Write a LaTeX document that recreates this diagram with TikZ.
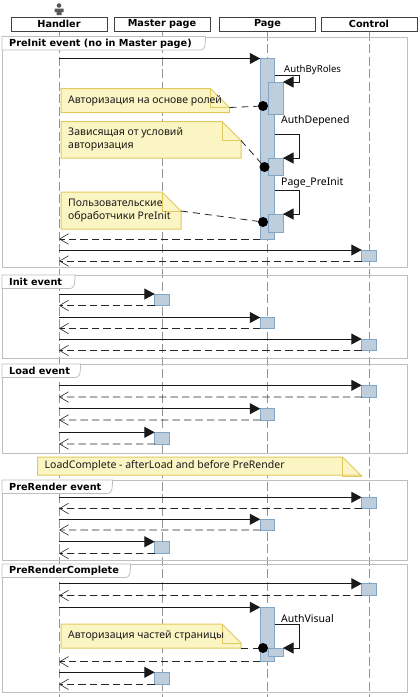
\documentclass[tikz,border=0pt]{standalone}
\usepackage{fontspec}
\setmainfont{Noto Sans}
\newfontfamily\headfont{DejaVu Sans}
\usepackage{tikz}
\usetikzlibrary{arrows.meta,calc}
\definecolor{noteback}{RGB}{251,245,195}
\definecolor{noteline}{RGB}{224,202,95}
\definecolor{actback}{RGB}{190,206,220}
\definecolor{actline}{RGB}{130,165,195}
\definecolor{frameline}{RGB}{190,190,190}

% name, x, y, width, height, text
\newcommand{\notebox}[6]{
    \draw[notebody] (#2,#3) -- ++(#4-19,0) -- ++(19,19) -- ++(0,#5-19) -- ++(-#4,0) -- cycle;
    \draw[notefold] (#2+#4-19,#3) -- ++(0,19) -- ++(19,0);
    \coordinate (#1c) at (#2+#4,#3+19);
    \node[notetext] (#1) at (#2,#3+#5/2) {#6};
}

\begin{document}
\begin{tikzpicture}[
    x=1pt, y=-1pt,
    font=\fontsize{10.5}{13}\selectfont,
    head/.style={draw=black!75, line width=1pt, fill=white, minimum width=96pt, minimum height=14pt, inner sep=0pt, font=\headfont\fontsize{9.7}{12}\selectfont\bfseries},
    lifeline/.style={gray!85, line width=0.8pt, dash pattern=on 9pt off 3.5pt},
    frame/.style={draw=frameline, line width=1pt, minimum width=405pt, inner sep=0pt, anchor=north west},
    tabline/.style={draw=frameline, line width=0.8pt, fill=white},
    tabtext/.style={font=\headfont\fontsize{9.7}{12}\selectfont\bfseries, anchor=west, inner sep=0pt},
    act/.style={draw=actline, fill=actback, line width=0.8pt, inner sep=0pt, outer sep=0pt, minimum width=14.5pt, anchor=north},
    subact/.style={act, minimum width=15pt},
    call/.style={-{Triangle[length=10.5pt,width=11pt]}, line width=1pt, black!90},
    back/.style={-{Straight Barb[length=9pt,width=10.5pt,line width=0.6pt]}, line width=0.9pt, black!85, dash pattern=on 7.5pt off 4pt},
    selfcall/.style={call},
    dot/.style={circle, fill=black, inner sep=0pt, minimum size=10pt},
    notebody/.style={draw=noteline, fill=noteback, line width=1pt},
    notefold/.style={noteline, line width=1pt},
    notetext/.style={anchor=west, align=left, inner sep=0pt, xshift=7pt, text=black!90},
    notelink/.style={black!85, line width=0.8pt, dash pattern=on 7pt off 5pt},
    steplabel/.style={anchor=south west, inner sep=0pt}
]
    \useasboundingbox (0,0) rectangle (420,697);

    % actor
    \fill[black!65] (59,5.5) circle (2.3pt);
    \fill[black!65] (54.5,8.5) -- (63.5,8.5) -- (63.5,12) -- (61.5,12) -- (61.5,15) -- (56.5,15) -- (56.5,12) -- (54.5,12) -- cycle;

    % lifelines
    \foreach \nm/\xx/\lab in {handler/59/Handler, master/162/Master page, page/267.5/Page, control/369/Control} {
        \node[head] (\nm) at (\xx,24) {\lab};
        \coordinate (\nm end) at (\xx,697);
        \draw[lifeline] (\nm.south) -- (\nm end);
    }

    % event frames
    \foreach \nm/\top/\bot/\tabx/\lab in {
        preinit/36.5/267/205.5/{PreInit event (no in Master page)},
        init/275/358/75/{Init event},
        load/364/453/80.5/{Load event},
        prerender/480/560/112.5/{PreRender event},
        prcomplete/564/692/130.5/{PreRenderComplete}} {
        \node[frame, minimum height=\bot pt-\top pt] (\nm) at (2,\top) {};
        \draw[tabline] (2,\top) -- (\tabx,\top) .. controls (\tabx,\top+10) and (\tabx-1,\top+13.5) .. (\tabx-5,\top+13.5) -- (2,\top+13.5) -- cycle;
        \node[tabtext] (\nm tab) at (9,\top+7) {\lab};
    }

    % simple call and return pairs
    \foreach \nm/\xx/\yy/\rr in {
        c1/369/250/261, i1/162/294/305.5, i2/267.5/317.5/328.5, i3/369/339/350.5,
        l1/369/385.3/397, l2/267.5/408.7/420, l3/162/432.3/444,
        r1/369/497.3/508.5, r2/267.5/519.3/530, r3/162/541.7/553.5,
        p1/369/583.7/595.5, p3/162/672.3/684.3} {
        \node[act, minimum height=\rr pt-\yy pt] (\nm) at (\xx,\yy) {};
        \coordinate (\nm s) at (59,\yy);
        \coordinate (\nm r) at (59,\rr);
        \draw[call] (\nm s) -- (\nm.north west);
        \draw[back] (\nm.south west) -- (\nm r);
    }

    % PreInit on the page
    \node[act, minimum height=180.5pt] (pgmain) at (267.5,58.5) {};
    \coordinate (pgs) at (59,58.5);
    \coordinate (pgr) at (59,239);
    \draw[call] (pgs) -- (pgmain.north west);
    \draw[back] (pgmain.south west) -- (pgr);

    \node[subact, minimum height=32pt] (roles) at (275.5,82) {};
    \node[subact, minimum height=17pt] (depend) at (275.5,158) {};
    \node[subact, minimum height=18pt] (hook) at (275.5,214) {};

    \coordinate (r1s) at (275,75);
    \coordinate (r1m) at (299,75);
    \coordinate (d1s) at (275,134);
    \coordinate (d1m) at (299,134);
    \coordinate (h1s) at (275,190);
    \coordinate (h1m) at (299,190);
    \draw[selfcall] (r1s) -- (r1m) |- (roles.north east);
    \draw[selfcall] (d1s) -- (d1m) |- (depend.north east);
    \draw[selfcall] (h1s) -- (h1m) |- (hook.north east);
    \node[steplabel, font=\fontsize{9.6}{12}\selectfont] (rolesl) at (284,74.5) {AuthByRoles};
    \node[steplabel] (dependl) at (281,126) {AuthDepened};
    \node[steplabel] (hookl) at (281,188) {Page\_PreInit};

    \notebox{note1}{61}{88.5}{168.5}{24}{Авторизация на основе ролей}
    \notebox{note2}{61}{121.5}{180}{36.5}{Зависящая от условий\\авторизация}
    \notebox{note3}{61}{192}{120}{37}{Пользовательские\\обработчики PreInit}

    \node[dot] (dot1) at (263,106) {};
    \node[dot] (dot2) at (264.5,167) {};
    \node[dot] (dot3) at (263,222) {};
    \draw[notelink] (note1c) -- (dot1);
    \draw[notelink] (note2c) -- (dot2);
    \draw[notelink] (note3c) -- (dot3);

    % LoadComplete note
    \notebox{note4}{37.5}{457}{324}{18}{LoadComplete - afterLoad and before PreRender}

    % PreRenderComplete on the page
    \node[act, minimum height=54.5pt] (pcmain) at (267.5,607.3) {};
    \coordinate (pcs) at (59,607.3);
    \coordinate (pcr) at (59,661.8);
    \draw[call] (pcs) -- (pcmain.north west);
    \draw[back] (pcmain.south west) -- (pcr);
    \node[subact, minimum height=8pt] (visual) at (275.5,648) {};
    \coordinate (v1s) at (275,624.5);
    \coordinate (v1m) at (299,624.5);
    \draw[selfcall] (v1s) -- (v1m) |- (visual.north east);
    \node[steplabel] (visuall) at (281,623) {AuthVisual};

    \notebox{note5}{61}{624}{180}{24}{Авторизация частей страницы}
    \node[dot] (dot4) at (263,648) {};
    \coordinate (note5b) at (241,648);
    \draw[notelink] (note5b) -- (dot4);
\end{tikzpicture}
\end{document}
